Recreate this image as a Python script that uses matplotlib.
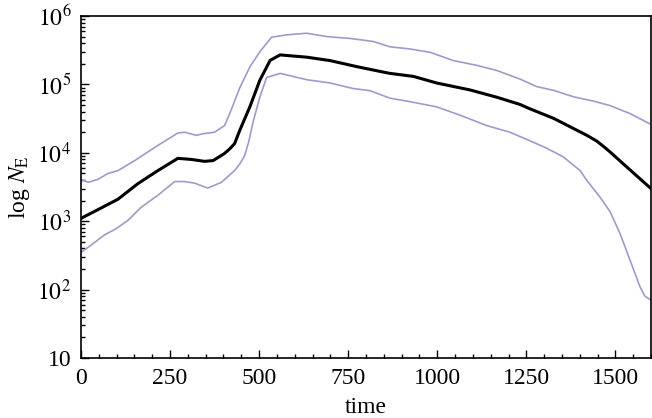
import numpy as np
import matplotlib
matplotlib.use("Agg")
import matplotlib.pyplot as plt
from matplotlib.ticker import FixedLocator, FixedFormatter, LogLocator, MultipleLocator, NullFormatter

plt.rcParams['font.family'] = ['Liberation Serif', 'DejaVu Serif']
plt.rcParams['mathtext.fontset'] = 'stix'

# median of N_E
mid_t = [0, 48, 104, 160, 216, 272, 310, 347, 371, 403, 418, 431, 446, 474, 502, 531, 559,
         634, 699, 774, 839, 867, 933, 998, 1092, 1167, 1232, 1260, 1326, 1391, 1420, 1448,
         1470, 1485, 1532, 1600]
mid_n = [1100, 1480, 2100, 3550, 5500, 8300, 8000, 7500, 7700, 9800, 11500, 13600, 21500,
         47000, 115000, 225000, 270000, 250000, 223000, 182000, 155000, 145000, 131000,
         105000, 83000, 65000, 51000, 44000, 32000, 21500, 18000, 14800, 12000, 10300,
         6200, 3000]

# upper envelope
hi_t = [0, 20, 48, 76, 104, 151, 207, 272, 291, 324, 342, 375, 403, 418, 446, 474, 502,
        535, 577, 634, 690, 755, 820, 867, 923, 980, 1045, 1111, 1167, 1232, 1279, 1326,
        1382, 1438, 1485, 1541, 1600]
hi_n = [4100, 3700, 4100, 5000, 5500, 7700, 12000, 19500, 20000, 18000, 19000, 20000,
        25000, 38000, 90000, 180000, 300000, 490000, 530000, 560000, 500000, 470000,
        425000, 355000, 330000, 295000, 223000, 190000, 160000, 120000, 93000, 82000,
        66000, 57000, 49000, 37500, 26000]

# lower envelope
lo_t = [0, 29, 66, 99, 132, 169, 216, 263, 291, 319, 356, 394, 431, 446, 459, 470, 484,
        502, 521, 559, 634, 699, 764, 811, 867, 923, 998, 1064, 1139, 1204, 1260, 1307,
        1354, 1401, 1419, 1457, 1485, 1513, 1541, 1569, 1583, 1600]
lo_n = [350, 450, 630, 780, 1030, 1600, 2400, 3800, 3800, 3600, 3050, 3700, 5500, 6900,
        9000, 14000, 29500, 65000, 126000, 145000, 117000, 105000, 87000, 81000, 63000,
        56000, 47000, 35500, 25000, 20000, 15000, 11700, 8700, 5500, 4000, 2240, 1380,
        660, 270, 110, 80, 70]

y_ticks = [10, 1e2, 1e3, 1e4, 1e5, 1e6]
y_labels = ['10', '$10^2$', '$10^3$', '$10^4$', '$10^5$', '$10^6$']

fig = plt.figure(figsize=(6.52, 4.18), dpi=100)
ax = fig.add_axes([0.1242, 0.1435, 0.8743, 0.8182])

band = '#9c9ccc'
ax.plot(hi_t, hi_n, color=band, lw=1.2)
ax.plot(lo_t, lo_n, color=band, lw=1.2)
ax.plot(mid_t, mid_n, color='black', lw=2.2)

ax.set_yscale('log')
ax.set_xlim(0, 1600)
ax.set_ylim(10, 1e6)

ax.yaxis.set_major_locator(FixedLocator(y_ticks))
ax.yaxis.set_major_formatter(FixedFormatter(y_labels))
ax.yaxis.set_minor_locator(LogLocator(base=10, subs=np.arange(2, 10)))
ax.yaxis.set_minor_formatter(NullFormatter())
ax.xaxis.set_major_locator(MultipleLocator(250))
ax.xaxis.set_minor_locator(MultipleLocator(50))

ax.tick_params(which='both', direction='in', top=False, right=False, labelsize=17, width=1.0)
ax.tick_params(which='major', length=6, pad=7)
ax.tick_params(which='minor', length=3)
for s in ax.spines.values():
    s.set_linewidth(1.2)

ax.set_xlabel('time', fontsize=17, labelpad=6)
ax.set_ylabel(r'log $N_{\rm E}$', fontsize=17, labelpad=4)

fig.savefig('out.png', dpi=100)
